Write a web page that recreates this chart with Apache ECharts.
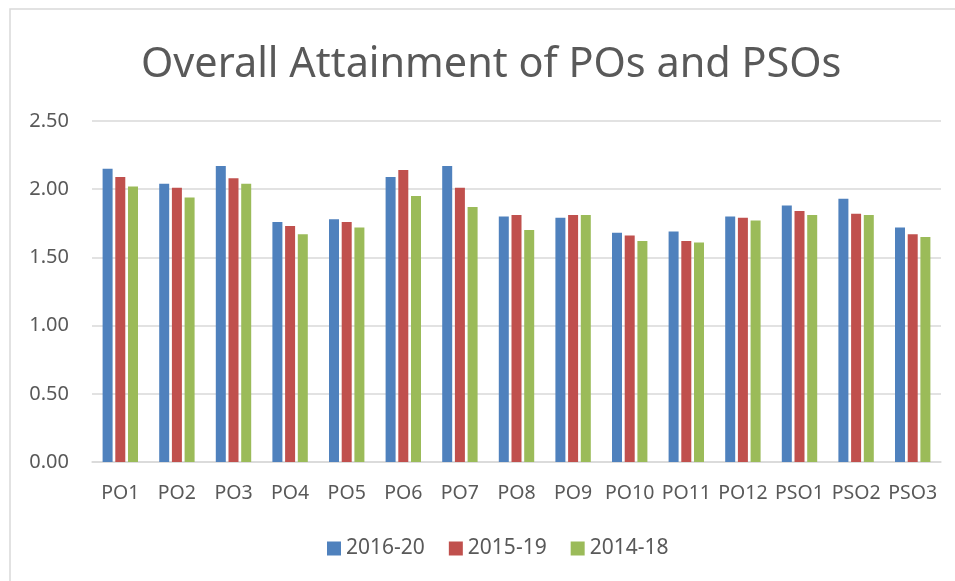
<!DOCTYPE html>
<html>
<head>
<meta charset="utf-8">
<script src="https://cdn.jsdelivr.net/npm/echarts@6/dist/echarts.min.js"></script>
<style>
  html, body { margin: 0; padding: 0; background: #ffffff; }
  #chart { width: 955px; height: 581px; }
</style>
</head>
<body>
<div id="chart"></div>
<script>
// Outcome categories
const categories = ['PO1', 'PO2', 'PO3', 'PO4', 'PO5', 'PO6', 'PO7', 'PO8', 'PO9', 'PO10', 'PO11', 'PO12', 'PSO1', 'PSO2', 'PSO3'];

// Attainment per batch
const batch2016_20 = [2.15, 2.04, 2.17, 1.76, 1.78, 2.09, 2.17, 1.80, 1.79, 1.68, 1.69, 1.80, 1.88, 1.93, 1.72];
const batch2015_19 = [2.09, 2.01, 2.08, 1.73, 1.76, 2.14, 2.01, 1.81, 1.81, 1.66, 1.62, 1.79, 1.84, 1.82, 1.67];
const batch2014_18 = [2.02, 1.94, 2.04, 1.67, 1.72, 1.95, 1.87, 1.70, 1.81, 1.62, 1.61, 1.77, 1.81, 1.81, 1.65];

const seriesNames = ['2016-20', '2015-19', '2014-18'];
const seriesData = [batch2016_20, batch2015_19, batch2014_18];
const seriesColors = ['#4F81BD', '#C0504D', '#9BBB59'];

// Y-axis ticks
const yMin = 0, yMax = 2.5, yStep = 0.5;

const textColor = '#595959';
const fontFamily = "'Noto Sans', 'Open Sans', sans-serif";

const chart = echarts.init(document.getElementById('chart'), null, { renderer: 'canvas' });

chart.setOption({
  backgroundColor: '#ffffff',
  animation: false,
  title: {
    text: 'Overall Attainment of POs and PSOs',
    left: 136,
    top: 40,
    textStyle: { color: textColor, fontSize: 41.4, fontWeight: 'normal', fontFamily: fontFamily }
  },
  graphic: [{
    type: 'rect',
    shape: { x: 10, y: 9, width: 1000, height: 1000 },
    style: { fill: 'none', stroke: '#d9d9d9', lineWidth: 1.5 },
    silent: true
  }],
  legend: {
    bottom: 17,
    left: 322,
    itemWidth: 14,
    itemHeight: 14,
    itemGap: 24,
    icon: 'rect',
    textStyle: { color: textColor, fontSize: 21, fontFamily: fontFamily },
    data: seriesNames
  },
  grid: { left: 92, right: 14, top: 121, bottom: 119, containLabel: false },
  xAxis: {
    type: 'category',
    data: categories,
    axisLine: { lineStyle: { color: '#d9d9d9', width: 1.5 } },
    axisTick: { show: false },
    axisLabel: { color: textColor, fontSize: 19.5, fontFamily: fontFamily, margin: 21, interval: 0 }
  },
  yAxis: {
    type: 'value',
    min: yMin,
    max: yMax,
    interval: yStep,
    axisLine: { show: false },
    axisTick: { show: false },
    splitLine: { lineStyle: { color: '#d9d9d9', width: 1.5 } },
    axisLabel: {
      color: textColor, fontSize: 20, fontFamily: fontFamily, margin: 23,
      formatter: v => v.toFixed(2)
    }
  },
  series: seriesNames.map((name, i) => ({
    name: name,
    type: 'bar',
    data: seriesData[i],
    barWidth: 10,
    barGap: '27%',
    itemStyle: { color: seriesColors[i] }
  }))
});
</script>
</body>
</html>
